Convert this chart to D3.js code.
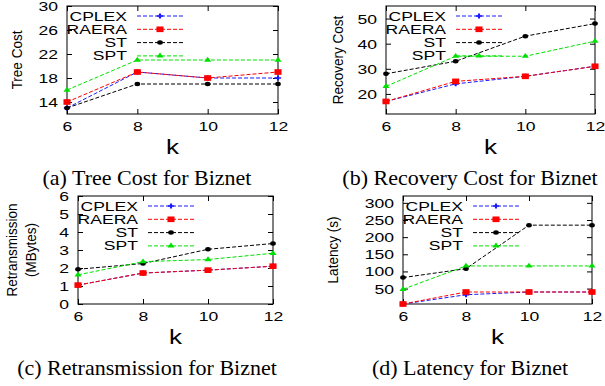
<!DOCTYPE html>
<html>
<head>
<meta charset="utf-8">
<script src="https://cdn.jsdelivr.net/npm/d3@7"></script>
<style>
  body { margin: 0; background: #fff; }
</style>
</head>
<body>
<svg id="chart" width="605" height="386"></svg>
<script>
// x values shared by all four panels
const kValues = [6, 8, 10, 12];
const seriesNames = ["CPLEX", "RAERA", "ST", "SPT"];

// series values, in seriesNames order
const treeCost = [
  [13, 19, 18, 18],
  [14, 19, 18, 19],
  [13, 17, 17, 17],
  [16, 21, 21, 21]
];
const recoveryCost = [
  [17, 24, 27, 31],
  [17, 25, 27, 31],
  [28, 33, 43, 48],
  [23, 35, 35, 41]
];
const retransmission = [
  [1.05, 1.72, 1.88, 2.1],
  [1.05, 1.72, 1.88, 2.1],
  [1.93, 2.25, 3.04, 3.36],
  [1.62, 2.35, 2.47, 2.82]
];
const latency = [
  [5, 32, 40, 40],
  [5, 40, 40, 40],
  [82, 108, 235, 235],
  [48, 116, 116, 116]
];

// tick labels
const treeTicks = [14, 18, 22, 26, 30];
const recoveryTicks = [20, 30, 40, 50];
const retransTicks = [0, 1, 2, 3, 4, 5, 6];
const latencyTicks = [50, 100, 150, 200, 250, 300];

const colors = ["#1a1aff", "#ff0000", "#000000", "#00e000"];
const symbols = [d3.symbolCross, d3.symbolSquare, d3.symbolCircle, d3.symbolTriangle];
const symbolSizes = [14, 32, 16, 14];

const SANS = "'Liberation Sans', Arial, sans-serif";
const SERIF = "'Liberation Serif', 'Times New Roman', serif";
const S = 1.35; // horizontal stretch of the plot text

const svg = d3.select("#chart");

const panels = [
  { left: 67, right: 278, top: 6, bottom: 114, domain: [12, 30], ticks: treeTicks, data: treeCost,
    ylabel: ["Tree Cost"], ylabelX: [17], caption: "(a) Tree Cost for Biznet", capX: 147 },
  { left: 386, right: 595, top: 6, bottom: 114, domain: [12, 55], ticks: recoveryTicks, data: recoveryCost,
    ylabel: ["Recovery Cost"], ylabelX: [338], caption: "(b) Recovery Cost for Biznet", capX: 470 },
  { left: 78, right: 273, top: 196, bottom: 304, domain: [0, 6], ticks: retransTicks, data: retransmission,
    ylabel: ["Retransmission", "(MBytes)"], ylabelX: [12, 31], caption: "(c) Retransmission for Biznet", capX: 147 },
  { left: 403, right: 592, top: 196, bottom: 304, domain: [5, 320], ticks: latencyTicks, data: latency,
    ylabel: ["Latency (s)"], ylabelX: [333], caption: "(d) Latency for Biznet", capX: 470 }
];

function drawPanel(p) {
  const g = svg.append("g");
  const x = d3.scaleLinear().domain([6, 12]).range([p.left, p.right]);
  const y = d3.scaleLinear().domain(p.domain).range([p.bottom, p.top]);
  const fmt = d3.format("d");

  // ticks pointing inward on all four sides
  const left = g.append("g")
    .attr("transform", `translate(${p.left},0)`)
    .call(d3.axisLeft(y).tickValues(p.ticks).tickFormat(fmt).tickSizeInner(-5).tickSizeOuter(0));
  left.selectAll("text")
    .attr("x", -9 / S)
    .attr("dy", "0.35em")
    .attr("transform", `scale(${S},1)`)
    .style("font-family", SANS).style("font-size", "13px").attr("fill", "#000");

  g.append("g")
    .attr("transform", `translate(${p.right},0)`)
    .call(d3.axisRight(y).tickValues(p.ticks).tickSizeInner(-5).tickSizeOuter(0).tickFormat(""));

  const bottom = g.append("g")
    .attr("transform", `translate(0,${p.bottom})`)
    .call(d3.axisBottom(x).tickValues(kValues).tickFormat(fmt).tickSizeInner(-5).tickSizeOuter(0));
  bottom.selectAll("text")
    .attr("y", 17).attr("dy", 0)
    .attr("transform", `scale(${S},1)`)
    .style("font-family", SANS).style("font-size", "13px").attr("fill", "#000");

  g.append("g")
    .attr("transform", `translate(0,${p.top})`)
    .call(d3.axisTop(x).tickValues(kValues).tickSizeInner(-5).tickSizeOuter(0).tickFormat(""));

  g.selectAll(".domain").remove();
  g.selectAll(".tick line").attr("stroke", "#000");

  g.append("rect")
    .attr("x", p.left).attr("y", p.top)
    .attr("width", p.right - p.left).attr("height", p.bottom - p.top)
    .attr("fill", "none").attr("stroke", "#000").attr("stroke-width", 1);

  // series
  const line = d3.line().x((d, i) => x(kValues[i])).y(d => y(d));
  p.data.forEach((vals, si) => {
    g.append("path")
      .attr("d", line(vals))
      .attr("fill", "none")
      .attr("stroke", colors[si])
      .attr("stroke-width", 1)
      .attr("stroke-dasharray", "4,2");
    g.selectAll(null)
      .data(vals)
      .enter()
      .append("path")
      .attr("d", d3.symbol().type(symbols[si]).size(symbolSizes[si]))
      .attr("transform", (d, i) => `translate(${x(kValues[i])},${y(d)}) scale(1.25,1)`)
      .attr("fill", colors[si]);
  });

  // legend
  seriesNames.forEach((name, si) => {
    const ry = p.top + 10 + si * 13.3;
    g.append("text")
      .attr("transform", `translate(${p.left + 60},${ry}) scale(${S},1)`)
      .attr("text-anchor", "end")
      .attr("dy", "0.35em")
      .style("font-family", SANS).style("font-size", "13px")
      .text(name);
    g.append("line")
      .attr("x1", p.left + 70).attr("x2", p.left + 116)
      .attr("y1", ry).attr("y2", ry)
      .attr("stroke", colors[si]).attr("stroke-dasharray", "4,2");
    g.append("path")
      .attr("d", d3.symbol().type(symbols[si]).size(symbolSizes[si]))
      .attr("transform", `translate(${p.left + 93},${ry}) scale(1.25,1)`)
      .attr("fill", colors[si]);
  });

  // y label
  const cy = (p.top + p.bottom) / 2;
  p.ylabel.forEach((t, li) => {
    g.append("text")
      .attr("transform", `translate(${p.ylabelX[li]},${cy}) scale(1.1,1) rotate(-90)`)
      .attr("text-anchor", "middle")
      .attr("dy", "0.35em")
      .style("font-family", SANS).style("font-size", "13.5px")
      .text(t);
  });

  // x label
  g.append("text")
    .attr("transform", `translate(${(p.left + p.right) / 2},${p.bottom + 40}) scale(1.3,1)`)
    .attr("text-anchor", "middle")
    .style("font-family", SANS).style("font-size", "20px")
    .text("k");

  // caption
  g.append("text")
    .attr("x", p.capX).attr("y", p.bottom + 71)
    .attr("text-anchor", "middle")
    .style("font-family", SERIF).style("font-size", "22px")
    .text(p.caption);
}

panels.forEach(drawPanel);
</script>
</body>
</html>
